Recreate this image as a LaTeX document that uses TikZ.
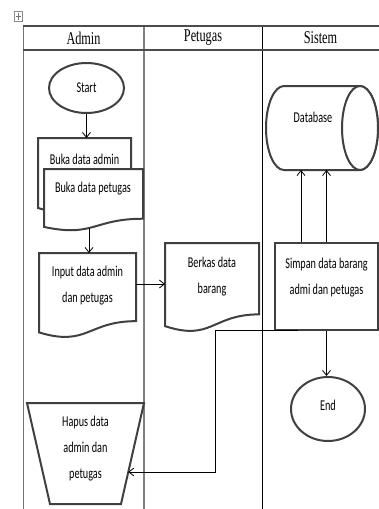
\documentclass[tikz,border=0pt]{standalone}
\usepackage{fontspec}
\setmainfont{Carlito}
\newfontfamily\bodyf[FakeStretch=0.68]{Carlito}
\newfontfamily\headf[FakeStretch=0.68]{Liberation Serif}
\usetikzlibrary{calc,arrows.meta,shapes.geometric}
\newcommand\docshape[1]{%
  \draw[shp] (#1.north west) -- (#1.north east) -- ($(#1.north east)!0.802!(#1.south east)$)
    .. controls ($(#1.north)!0.802!(#1.south)$) and ($(#1.north)!1.1075!(#1.south)$) ..
    ($(#1.north west)!0.934!(#1.south west)$) -- cycle;}
\begin{document}
\begin{tikzpicture}[x=1pt,y=-1pt,
  shp/.style={draw=black!75, line width=2pt, fill=white},
  conn/.style={draw=black, line width=0.8pt},
  arr/.style={conn, -{Straight Barb[length=5pt,width=8pt]}},
  txt/.style={font=\bodyf\fontsize{15}{26}\selectfont, align=center, inner sep=0pt},
  hd/.style={font=\headf\fontsize{18}{20}\selectfont, inner sep=0pt},
  box/.style={inner sep=0pt, outer sep=0pt, draw=none}]
\useasboundingbox (0,0) rectangle (379,509);
% move handle icon
\draw[black!45, line width=0.6pt] (14,11) rectangle (22,21);
\draw[black!55, line width=0.5pt] (18,12.5) -- (18,19.5) (15.5,16) -- (20.5,16);
% swimlane table
\draw[black!55, line width=1pt] (23,26) -- (23,509);
\draw[black!50, line width=1.4pt] (144,26) -- (144,509);
\draw[black, line width=0.7pt] (262,26) -- (262,509);
\draw[black!70, line width=1.2pt] (22.5,26) -- (379,26);
\draw[black!70, line width=1.2pt] (22.5,50) -- (379,50);
\node[hd] (hAdmin) at (83.5,38) {Admin};
\node[hd] (hPetugas) at (203,38) {Petugas};
\node[hd] (hSistem) at (320.5,38) {Sistem};
% Start
\node[shp, ellipse, minimum width=75pt, minimum height=50pt, inner sep=0pt, txt] (start) at (86.5,88) {Start};
% Buka data admin / petugas (stacked documents)
\node[box, minimum width=93pt, minimum height=75pt] (bukaA) at (84.5,175.5) {};
\docshape{bukaA}
\node[txt] (bukaAt) at (84.5,159) {Buka data admin};
\node[box, minimum width=99pt, minimum height=62pt] (bukaP) at (93.5,200) {};
\docshape{bukaP}
\node[txt] (bukaPt) at (93,189) {Buka data petugas};
% Input data
\node[box, minimum width=97pt, minimum height=85pt] (input) at (87.5,295.5) {};
\docshape{input}
\node[txt] (inputt) at (87.5,286) {Input data admin\\dan petugas};
% Berkas data barang
\node[box, minimum width=94pt, minimum height=89pt] (berkas) at (212,287.5) {};
\docshape{berkas}
\node[txt] (berkast) at (212,277) {Berkas data\\barang};
% Database cylinder
\node[box, minimum width=112pt, minimum height=84pt] (db) at (322,128) {};
\draw[shp] ([xshift=18pt]db.north west) arc[start angle=90, end angle=270, x radius=18pt, y radius=42pt]
  -- ([xshift=-18pt]db.south east) arc[start angle=-90, end angle=90, x radius=18pt, y radius=42pt] -- cycle;
\draw[shp] ([xshift=-18pt]db.east) ellipse[x radius=18pt, y radius=42pt];
\node[txt] (dbt) at (313,117) {Database};
% Simpan
\node[shp, rectangle, minimum width=103pt, minimum height=87pt, inner sep=0pt] (simpan) at (326.5,286.5) {};
\node[txt] (simpant) at (326.5,278) {Simpan data barang\\admi dan petugas};
% End
\node[shp, ellipse, minimum width=74pt, minimum height=64pt, inner sep=0pt] (end) at (328,409) {};
\node[txt] (endt) at (328,405) {End};
% Hapus (manual operation)
\node[box, minimum width=117pt, minimum height=101pt] (hapus) at (85.5,453.5) {};
\draw[shp] (hapus.north west) -- (hapus.north east) -- ([xshift=-23pt]hapus.south east)
  -- ([xshift=23pt]hapus.south west) -- cycle;
\node[txt] (hapust) at (85.5,449) {Hapus data\\admin dan\\petugas};
% connectors
\draw[arr] (start.south) -- (start.south |- bukaA.north);
\draw[arr] ([xshift=-4.5pt,yshift=3pt]bukaP.south) -- ([xshift=-4.5pt]bukaP.south |- input.north);
\draw[arr] ([yshift=11.5pt]input.east) -- ([yshift=11.5pt]input.east -| berkas.west);
\draw[arr] ([xshift=-25.5pt]simpan.north) -- ([xshift=-25.5pt]simpan.north |- db.south);
\draw[arr] (simpan.north) -- (simpan.north |- db.south);
\draw[arr] (simpan.south) -- (simpan.south |- end.north);
\draw[arr] ([xshift=-28.5pt,yshift=1pt]simpan.south) -- ++(-83,0)
  |- ($(hapus.north east)!0.683!([xshift=-23pt]hapus.south east)$);
\end{tikzpicture}
\end{document}
